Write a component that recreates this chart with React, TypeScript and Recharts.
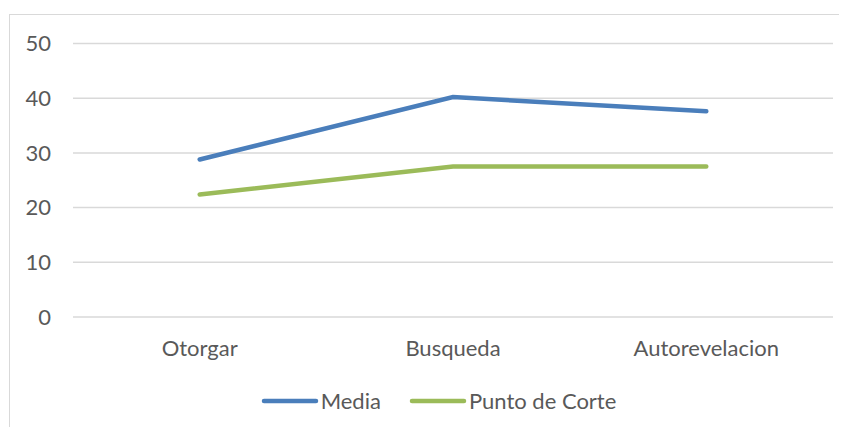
import { LineChart, Line, XAxis, YAxis, CartesianGrid, Legend } from "recharts";

const categories = ["Otorgar", "Busqueda", "Autorevelacion"];
const media = [28.8, 40.2, 37.6];
const puntoCorte = [22.4, 27.5, 27.5];
const yTicks = [0, 10, 20, 30, 40, 50];

const data = categories.map((name, i) => ({ name, media: media[i], corte: puntoCorte[i] }));

const FONT = "Lato, 'Open Sans', sans-serif";

const renderLegend = (props: any) => {
  const { payload } = props;
  return (
    <div style={{ display: "flex", justifyContent: "center", alignItems: "center", paddingLeft: 30, fontFamily: FONT, fontSize: 22, color: "#595959" }}>
      {payload.map((p: any, i: number) => (
        <div key={i} style={{ display: "flex", alignItems: "center", marginRight: i === 0 ? 28 : 0 }}>
          <svg width={58} height={8} style={{ marginRight: 2 }}>
            <line x1={3} y1={4} x2={55} y2={4} stroke={p.color} strokeWidth={4.5} strokeLinecap="round" />
          </svg>
          <span>{p.value}</span>
        </div>
      ))}
    </div>
  );
};

export default function App() {
  return (
    <div style={{ position: "relative", width: 847, height: 435, margin: -8, overflow: "hidden", background: "#fff" }}>
      <div style={{ position: "absolute", left: 9, top: 14, width: 850, height: 440, border: "1px solid #d9d9d9", boxSizing: "border-box" }} />
      <div style={{ position: "absolute", left: 0, top: 0 }}>
        <LineChart width={847} height={435} data={data} margin={{ top: 43.5, right: 14, left: 33, bottom: 61 }}>
          <CartesianGrid vertical={false} stroke="#d9d9d9" strokeWidth={1.5} />
          <XAxis dataKey="name" axisLine={false} tickLine={false} tickSize={0} tickMargin={23}
            padding={{ left: 126.7, right: 126.7 }}
            tick={{ fill: "#595959", fontSize: 22, fontFamily: FONT }} />
          <YAxis domain={[0, 50]} ticks={yTicks} width={40} axisLine={false} tickLine={false} tickSize={0} tickMargin={22}
            tick={{ fill: "#595959", fontSize: 22, fontFamily: FONT }} />
          <Legend content={renderLegend} wrapperStyle={{ position: "absolute", top: 387, left: 0, width: 847 }} />
          <Line dataKey="media" name="Media" stroke="#4a7ebb" strokeWidth={4.5} strokeLinecap="round" dot={false} activeDot={false} isAnimationActive={false} />
          <Line dataKey="corte" name="Punto de Corte" stroke="#9bbb59" strokeWidth={4.5} strokeLinecap="round" dot={false} activeDot={false} isAnimationActive={false} />
        </LineChart>
      </div>
    </div>
  );
}
